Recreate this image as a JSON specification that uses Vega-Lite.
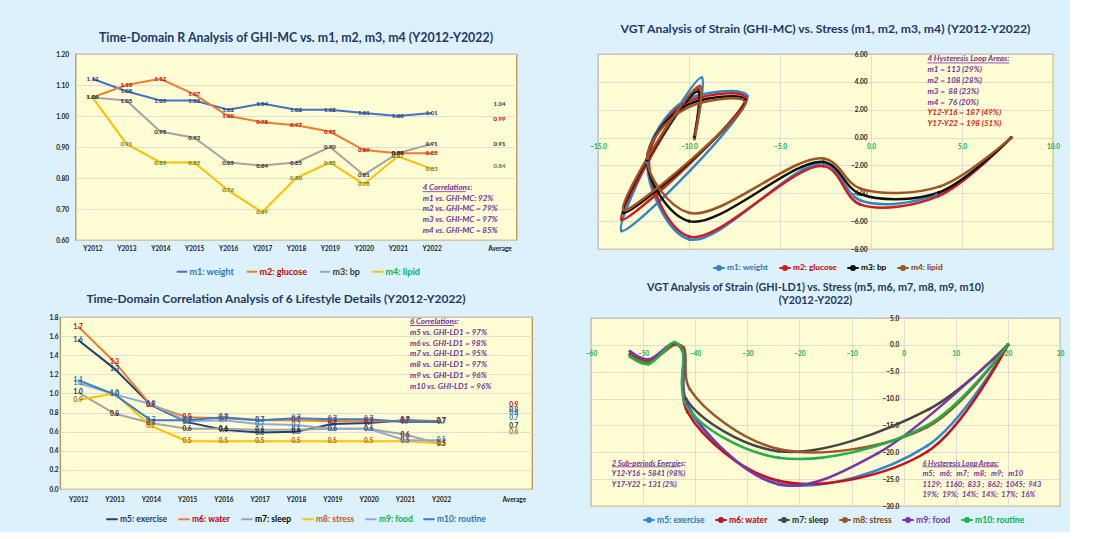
{
 "$schema": "https://vega.github.io/schema/vega-lite/v6.json",
 "background": "#dcf1fb",
 "padding": {"left": 48, "top": 22, "right": 5, "bottom": 5},
 "bounds": "full",
 "spacing": 51,
 "resolve": {"scale": {"color": "independent", "stroke": "independent", "fill": "independent"}},
 "config": {
   "font": "Lato",
   "view": {"fill": "#fffdd3", "stroke": "#b08a58", "strokeWidth": 1.2},
   "title": {"font": "Lato", "fontSize": 13, "fontWeight": "bold", "color": "#1f3864", "anchor": "middle"},
   "axis": {"labelFont": "Lato", "labelFontWeight": "bold", "labelFontSize": 6.5, "labelColor": "#1a1a1a", "labelOverlap": false, "domain": false, "ticks": false, "tickSize": 0, "gridColor": "#d6d6d6", "gridWidth": 0.8},
   "legend": {"padding": 0, "labelFont": "Lato", "labelFontWeight": "bold", "labelFontSize": 9, "labelOffset": 1, "columnPadding": 8, "symbolStrokeWidth": 2}
 },
 "datasets": {
  "tl": [
   {"series":"m1: weight","year":"Y2012","value":1.12},{"series":"m1: weight","year":"Y2013","value":1.08},{"series":"m1: weight","year":"Y2014","value":1.05},{"series":"m1: weight","year":"Y2015","value":1.05},{"series":"m1: weight","year":"Y2016","value":1.02},{"series":"m1: weight","year":"Y2017","value":1.04},{"series":"m1: weight","year":"Y2018","value":1.02},{"series":"m1: weight","year":"Y2019","value":1.02},{"series":"m1: weight","year":"Y2020","value":1.01},{"series":"m1: weight","year":"Y2021","value":1.00},{"series":"m1: weight","year":"Y2022","value":1.01},{"series":"m1: weight","year":"Average","value":1.04},
   {"series":"m2: glucose","year":"Y2012","value":1.06},{"series":"m2: glucose","year":"Y2013","value":1.10},{"series":"m2: glucose","year":"Y2014","value":1.12},{"series":"m2: glucose","year":"Y2015","value":1.07},{"series":"m2: glucose","year":"Y2016","value":1.00},{"series":"m2: glucose","year":"Y2017","value":0.98},{"series":"m2: glucose","year":"Y2018","value":0.97},{"series":"m2: glucose","year":"Y2019","value":0.95},{"series":"m2: glucose","year":"Y2020","value":0.89},{"series":"m2: glucose","year":"Y2021","value":0.88},{"series":"m2: glucose","year":"Y2022","value":0.88},{"series":"m2: glucose","year":"Average","value":0.99},
   {"series":"m3: bp","year":"Y2012","value":1.06},{"series":"m3: bp","year":"Y2013","value":1.05},{"series":"m3: bp","year":"Y2014","value":0.95},{"series":"m3: bp","year":"Y2015","value":0.93},{"series":"m3: bp","year":"Y2016","value":0.85},{"series":"m3: bp","year":"Y2017","value":0.84},{"series":"m3: bp","year":"Y2018","value":0.85},{"series":"m3: bp","year":"Y2019","value":0.90},{"series":"m3: bp","year":"Y2020","value":0.81},{"series":"m3: bp","year":"Y2021","value":0.88},{"series":"m3: bp","year":"Y2022","value":0.91},{"series":"m3: bp","year":"Average","value":0.91},
   {"series":"m4: lipid","year":"Y2012","value":1.06},{"series":"m4: lipid","year":"Y2013","value":0.91},{"series":"m4: lipid","year":"Y2014","value":0.85},{"series":"m4: lipid","year":"Y2015","value":0.85},{"series":"m4: lipid","year":"Y2016","value":0.76},{"series":"m4: lipid","year":"Y2017","value":0.69},{"series":"m4: lipid","year":"Y2018","value":0.80},{"series":"m4: lipid","year":"Y2019","value":0.85},{"series":"m4: lipid","year":"Y2020","value":0.78},{"series":"m4: lipid","year":"Y2021","value":0.87},{"series":"m4: lipid","year":"Y2022","value":0.83},{"series":"m4: lipid","year":"Average","value":0.84}
  ],
  "bl": [
   {"series":"m5: exercise","year":"Y2012","value":1.56},{"series":"m5: exercise","year":"Y2013","value":1.26},{"series":"m5: exercise","year":"Y2014","value":0.88},{"series":"m5: exercise","year":"Y2015","value":0.70},{"series":"m5: exercise","year":"Y2016","value":0.62},{"series":"m5: exercise","year":"Y2017","value":0.59},{"series":"m5: exercise","year":"Y2018","value":0.60},{"series":"m5: exercise","year":"Y2019","value":0.68},{"series":"m5: exercise","year":"Y2020","value":0.69},{"series":"m5: exercise","year":"Y2021","value":0.72},{"series":"m5: exercise","year":"Y2022","value":0.71},{"series":"m5: exercise","year":"Average","value":0.83},
   {"series":"m6: water","year":"Y2012","value":1.70},{"series":"m6: water","year":"Y2013","value":1.33},{"series":"m6: water","year":"Y2014","value":0.88},{"series":"m6: water","year":"Y2015","value":0.75},{"series":"m6: water","year":"Y2016","value":0.74},{"series":"m6: water","year":"Y2017","value":0.72},{"series":"m6: water","year":"Y2018","value":0.72},{"series":"m6: water","year":"Y2019","value":0.71},{"series":"m6: water","year":"Y2020","value":0.71},{"series":"m6: water","year":"Y2021","value":0.71},{"series":"m6: water","year":"Y2022","value":0.71},{"series":"m6: water","year":"Average","value":0.88},
   {"series":"m7: sleep","year":"Y2012","value":1.01},{"series":"m7: sleep","year":"Y2013","value":0.79},{"series":"m7: sleep","year":"Y2014","value":0.69},{"series":"m7: sleep","year":"Y2015","value":0.63},{"series":"m7: sleep","year":"Y2016","value":0.63},{"series":"m7: sleep","year":"Y2017","value":0.62},{"series":"m7: sleep","year":"Y2018","value":0.62},{"series":"m7: sleep","year":"Y2019","value":0.63},{"series":"m7: sleep","year":"Y2020","value":0.63},{"series":"m7: sleep","year":"Y2021","value":0.57},{"series":"m7: sleep","year":"Y2022","value":0.47},{"series":"m7: sleep","year":"Average","value":0.66},
   {"series":"m8: stress","year":"Y2012","value":0.93},{"series":"m8: stress","year":"Y2013","value":1.00},{"series":"m8: stress","year":"Y2014","value":0.66},{"series":"m8: stress","year":"Y2015","value":0.50},{"series":"m8: stress","year":"Y2016","value":0.50},{"series":"m8: stress","year":"Y2017","value":0.50},{"series":"m8: stress","year":"Y2018","value":0.50},{"series":"m8: stress","year":"Y2019","value":0.50},{"series":"m8: stress","year":"Y2020","value":0.50},{"series":"m8: stress","year":"Y2021","value":0.50},{"series":"m8: stress","year":"Y2022","value":0.48},{"series":"m8: stress","year":"Average","value":0.60},
   {"series":"m9: food","year":"Y2012","value":1.11},{"series":"m9: food","year":"Y2013","value":0.99},{"series":"m9: food","year":"Y2014","value":0.89},{"series":"m9: food","year":"Y2015","value":0.71},{"series":"m9: food","year":"Y2016","value":0.72},{"series":"m9: food","year":"Y2017","value":0.68},{"series":"m9: food","year":"Y2018","value":0.67},{"series":"m9: food","year":"Y2019","value":0.63},{"series":"m9: food","year":"Y2020","value":0.63},{"series":"m9: food","year":"Y2021","value":0.51},{"series":"m9: food","year":"Y2022","value":0.51},{"series":"m9: food","year":"Average","value":0.74},
   {"series":"m10: routine","year":"Y2012","value":1.14},{"series":"m10: routine","year":"Y2013","value":0.99},{"series":"m10: routine","year":"Y2014","value":0.72},{"series":"m10: routine","year":"Y2015","value":0.72},{"series":"m10: routine","year":"Y2016","value":0.75},{"series":"m10: routine","year":"Y2017","value":0.72},{"series":"m10: routine","year":"Y2018","value":0.74},{"series":"m10: routine","year":"Y2019","value":0.73},{"series":"m10: routine","year":"Y2020","value":0.73},{"series":"m10: routine","year":"Y2021","value":0.70},{"series":"m10: routine","year":"Y2022","value":0.70},{"series":"m10: routine","year":"Average","value":0.80}
  ],
  "tr": [
   {"series":"m1: weight","step":1,"stress":7.7,"strain":0},{"series":"m1: weight","step":2,"stress":3.6,"strain":-4.1},{"series":"m1: weight","step":3,"stress":-0.6,"strain":-4.5},{"series":"m1: weight","step":4,"stress":-2.6,"strain":-1.85},{"series":"m1: weight","step":5,"stress":-10,"strain":-7.3},{"series":"m1: weight","step":6,"stress":-12.3,"strain":-1.7},{"series":"m1: weight","step":7,"stress":-10.3,"strain":2.6},{"series":"m1: weight","step":8,"stress":-6.8,"strain":3.0},{"series":"m1: weight","step":9,"stress":-13.7,"strain":-6.7},{"series":"m1: weight","step":10,"stress":-12.3,"strain":-1.8},{"series":"m1: weight","step":11,"stress":-9.3,"strain":4.3},{"series":"m1: weight","step":12,"stress":-9.7,"strain":0.1},
   {"series":"m2: glucose","step":1,"stress":7.7,"strain":0},{"series":"m2: glucose","step":2,"stress":3.7,"strain":-4.2},{"series":"m2: glucose","step":3,"stress":-0.6,"strain":-4.8},{"series":"m2: glucose","step":4,"stress":-2.6,"strain":-2.05},{"series":"m2: glucose","step":5,"stress":-10,"strain":-7.1},{"series":"m2: glucose","step":6,"stress":-12.2,"strain":-1.6},{"series":"m2: glucose","step":7,"stress":-10.3,"strain":2.4},{"series":"m2: glucose","step":8,"stress":-6.9,"strain":2.9},{"series":"m2: glucose","step":9,"stress":-13.7,"strain":-5.9},{"series":"m2: glucose","step":10,"stress":-12.2,"strain":-1.6},{"series":"m2: glucose","step":11,"stress":-9.5,"strain":3.5},{"series":"m2: glucose","step":12,"stress":-9.7,"strain":0.1},
   {"series":"m3: bp","step":1,"stress":7.7,"strain":0},{"series":"m3: bp","step":2,"stress":3.7,"strain":-3.95},{"series":"m3: bp","step":3,"stress":-0.6,"strain":-4.05},{"series":"m3: bp","step":4,"stress":-2.6,"strain":-1.75},{"series":"m3: bp","step":5,"stress":-10,"strain":-6.0},{"series":"m3: bp","step":6,"stress":-12.3,"strain":-1.6},{"series":"m3: bp","step":7,"stress":-10.3,"strain":2.2},{"series":"m3: bp","step":8,"stress":-6.9,"strain":2.7},{"series":"m3: bp","step":9,"stress":-13.6,"strain":-5.4},{"series":"m3: bp","step":10,"stress":-12.3,"strain":-1.6},{"series":"m3: bp","step":11,"stress":-9.5,"strain":3.3},{"series":"m3: bp","step":12,"stress":-9.7,"strain":0.0},
   {"series":"m4: lipid","step":1,"stress":7.7,"strain":0},{"series":"m4: lipid","step":2,"stress":3.8,"strain":-3.5},{"series":"m4: lipid","step":3,"stress":-0.6,"strain":-3.65},{"series":"m4: lipid","step":4,"stress":-2.6,"strain":-1.5},{"series":"m4: lipid","step":5,"stress":-10,"strain":-5.4},{"series":"m4: lipid","step":6,"stress":-12.3,"strain":-1.5},{"series":"m4: lipid","step":7,"stress":-10.3,"strain":2.0},{"series":"m4: lipid","step":8,"stress":-6.9,"strain":2.6},{"series":"m4: lipid","step":9,"stress":-13.6,"strain":-5.2},{"series":"m4: lipid","step":10,"stress":-12.3,"strain":-1.5},{"series":"m4: lipid","step":11,"stress":-9.4,"strain":3.7},{"series":"m4: lipid","step":12,"stress":-9.7,"strain":-0.1}
  ],
  "br": [
   {"series":"m5: exercise","step":1,"stress":20,"strain":0},{"series":"m5: exercise","step":2,"stress":4.5,"strain":-18.8},{"series":"m5: exercise","step":3,"stress":-24,"strain":-25.8},{"series":"m5: exercise","step":4,"stress":-41.5,"strain":-11.5},{"series":"m5: exercise","step":5,"stress":-42.4,"strain":-1.2},{"series":"m5: exercise","step":6,"stress":-44,"strain":0.2},{"series":"m5: exercise","step":7,"stress":-49,"strain":-3.0},{"series":"m5: exercise","step":8,"stress":-52.5,"strain":-1.8},
   {"series":"m6: water","step":1,"stress":20,"strain":0},{"series":"m6: water","step":2,"stress":4.5,"strain":-19.9},{"series":"m6: water","step":3,"stress":-24,"strain":-25.3},{"series":"m6: water","step":4,"stress":-41.5,"strain":-12.5},{"series":"m6: water","step":5,"stress":-42.4,"strain":-1.0},{"series":"m6: water","step":6,"stress":-44,"strain":0.1},{"series":"m6: water","step":7,"stress":-49,"strain":-3.0},{"series":"m6: water","step":8,"stress":-52.5,"strain":-1.8},
   {"series":"m7: sleep","step":1,"stress":20,"strain":0},{"series":"m7: sleep","step":2,"stress":4.8,"strain":-12.0},{"series":"m7: sleep","step":3,"stress":-24,"strain":-19.8},{"series":"m7: sleep","step":4,"stress":-41.8,"strain":-10.0},{"series":"m7: sleep","step":5,"stress":-42.4,"strain":-0.8},{"series":"m7: sleep","step":6,"stress":-44,"strain":0.2},{"series":"m7: sleep","step":7,"stress":-49,"strain":-3.1},{"series":"m7: sleep","step":8,"stress":-52.5,"strain":-1.9},
   {"series":"m8: stress","step":1,"stress":20,"strain":0},{"series":"m8: stress","step":2,"stress":4.5,"strain":-15.3},{"series":"m8: stress","step":3,"stress":-24,"strain":-19.4},{"series":"m8: stress","step":4,"stress":-41,"strain":-8.3},{"series":"m8: stress","step":5,"stress":-42.2,"strain":-0.5},{"series":"m8: stress","step":6,"stress":-43.8,"strain":0.0},{"series":"m8: stress","step":7,"stress":-49,"strain":-3.2},{"series":"m8: stress","step":8,"stress":-52.5,"strain":-2.0},
   {"series":"m9: food","step":1,"stress":20,"strain":0},{"series":"m9: food","step":2,"stress":-5,"strain":-20.2},{"series":"m9: food","step":3,"stress":-24,"strain":-26.0},{"series":"m9: food","step":4,"stress":-41.5,"strain":-11.0},{"series":"m9: food","step":5,"stress":-42.4,"strain":-1.0},{"series":"m9: food","step":6,"stress":-44,"strain":0.4},{"series":"m9: food","step":7,"stress":-49,"strain":-2.7},{"series":"m9: food","step":8,"stress":-52.5,"strain":-1.2},
   {"series":"m10: routine","step":1,"stress":20,"strain":0},{"series":"m10: routine","step":2,"stress":4.5,"strain":-15.0},{"series":"m10: routine","step":3,"stress":-24,"strain":-21.0},{"series":"m10: routine","step":4,"stress":-41.6,"strain":-11.5},{"series":"m10: routine","step":5,"stress":-42.5,"strain":-1.0},{"series":"m10: routine","step":6,"stress":-44,"strain":0.5},{"series":"m10: routine","step":7,"stress":-49,"strain":-3.6},{"series":"m10: routine","step":8,"stress":-52.5,"strain":-2.2}
  ]
 },
 "hconcat": [
  {
   "spacing": 77, "bounds": "flush", "center": true,
   "resolve": {"scale": {"color": "independent", "stroke": "independent", "fill": "independent"}},
   "vconcat": [
    {
     "width": 441, "height": 186,
     "title": {"text": "Time-Domain R Analysis of GHI-MC vs. m1, m2, m3, m4  (Y2012-Y2022)", "offset": 7, "fontSize": 12.4},
     "data": {"name": "tl"},
     "layer": [
      {"transform": [{"filter": "datum.year !== 'Average'"}],
       "mark": {"type": "line", "strokeWidth": 2},
       "encoding": {
        "x": {"field": "year", "type": "ordinal", "scale": {"type": "point", "padding": 0.5, "domain": ["Y2012","Y2013","Y2014","Y2015","Y2016","Y2017","Y2018","Y2019","Y2020","Y2021","Y2022","gap","Average"]}, "axis": {"title": null, "labelAngle": 0, "labelPadding": 5, "labelExpr": "datum.value === 'gap' ? '' : datum.value", "minExtent": 0}},
        "y": {"field": "value", "type": "quantitative", "scale": {"domain": [0.6, 1.2], "nice": false, "zero": false}, "axis": {"title": null, "values": [0.6,0.7,0.8,0.9,1.0,1.1,1.2], "format": ".2f", "grid": true, "labelPadding": 7, "minExtent": 0}},
        "stroke": {"field": "series", "type": "nominal", "scale": {"domain": ["m1: weight","m2: glucose","m3: bp","m4: lipid"], "range": ["#4472c4","#ed7d31","#a5a5a5","#ffc000"]},
         "legend": {"title": null, "orient": "none", "legendX": 100, "legendY": 211, "direction": "horizontal", "symbolType": "stroke", "symbolSize": 110,
           "encode": {"labels": {"update": {"fill": {"signal": "datum.value==='m1: weight'?'#2e75b6':datum.value==='m2: glucose'?'#c00000':datum.value==='m3: bp'?'#3a3a3a':'#00b050'"}}}}}}}},
      {"mark": {"type": "text", "fontSize": 6, "fontWeight": "bold"},
       "encoding": {
        "x": {"field": "year", "type": "ordinal", "axis": {"title": null, "labelAngle": 0, "labelPadding": 5, "labelExpr": "datum.value === 'gap' ? '' : datum.value", "minExtent": 0}},
        "y": {"field": "value", "type": "quantitative", "axis": {"title": null, "values": [0.6,0.7,0.8,0.9,1.0,1.1,1.2], "format": ".2f", "grid": true, "labelPadding": 7, "minExtent": 0}},
        "text": {"field": "value", "type": "quantitative", "format": ".2f"},
        "fill": {"field": "series", "type": "nominal", "scale": {"domain": ["m1: weight","m2: glucose","m3: bp","m4: lipid"], "range": ["#1f3864","#c00000","#262626","#4e7d2a"]}, "legend": null}}},
      {"data": {"values": [{"note": ["4 Correlations:", "m1 vs. GHI-MC: 92%", "m2 vs. GHI-MC = 79%", "m3 vs. GHI-MC = 97%", "m4 vs. GHI-MC = 85%"]}]},
       "mark": {"type": "text", "align": "left", "baseline": "top", "dx": -9, "fontSize": 8, "fontStyle": "italic", "fontWeight": "bold", "fill": "#7030a0", "lineHeight": 10.8},
       "encoding": {
        "x": {"datum": "Y2022", "type": "ordinal", "axis": {"title": null, "labelAngle": 0, "labelPadding": 5, "labelExpr": "datum.value === 'gap' ? '' : datum.value", "minExtent": 0}},
        "y": {"datum": 0.781, "type": "quantitative", "axis": {"title": null, "values": [0.6,0.7,0.8,0.9,1.0,1.1,1.2], "format": ".2f", "grid": true, "labelPadding": 7, "minExtent": 0}},
        "text": {"field": "note", "type": "nominal"}}},
      {"data": {"values": [{}]},
       "mark": {"type": "rule", "color": "#7030a0", "strokeWidth": 0.8, "xOffset": -9, "x2Offset": 34},
       "encoding": {
        "x": {"datum": "Y2022", "type": "ordinal", "axis": {"title": null, "labelAngle": 0, "labelPadding": 5, "labelExpr": "datum.value === 'gap' ? '' : datum.value", "minExtent": 0}},
        "x2": {"datum": "Y2022"},
        "y": {"datum": 0.756, "type": "quantitative", "axis": {"title": null, "values": [0.6,0.7,0.8,0.9,1.0,1.1,1.2], "format": ".2f", "grid": true, "labelPadding": 7, "minExtent": 0}}}}
     ]
    },
    {
     "width": 472, "height": 172,
     "title": {"text": "Time-Domain Correlation Analysis of 6 Lifestyle Details  (Y2012-Y2022)", "offset": 8, "dx": -20, "fontSize": 12},
     "data": {"name": "bl"},
     "layer": [
      {"transform": [{"filter": "datum.year !== 'Average'"}],
       "mark": {"type": "line", "strokeWidth": 2},
       "encoding": {
        "x": {"field": "year", "type": "ordinal", "scale": {"type": "point", "padding": 0.5, "domain": ["Y2012","Y2013","Y2014","Y2015","Y2016","Y2017","Y2018","Y2019","Y2020","Y2021","Y2022","gap","Average"]}, "axis": {"title": null, "labelAngle": 0, "labelPadding": 7, "labelExpr": "datum.value === 'gap' ? '' : datum.value", "minExtent": 0}},
        "y": {"field": "value", "type": "quantitative", "scale": {"domain": [0, 1.8], "nice": false}, "axis": {"title": null, "values": [0,0.2,0.4,0.6,0.8,1.0,1.2,1.4,1.6,1.8], "format": ".1f", "grid": true, "labelPadding": 2, "minExtent": 0}},
        "stroke": {"field": "series", "type": "nominal", "scale": {"domain": ["m5: exercise","m6: water","m7: sleep","m8: stress","m9: food","m10: routine"], "range": ["#22406f","#ed7d31","#a5a5a5","#ffc000","#8eaadb","#3b7dc4"]},
         "legend": {"title": null, "orient": "none", "legendX": 45, "legendY": 195, "direction": "horizontal", "symbolType": "stroke", "symbolSize": 130, "labelFontSize": 8.5, "columnPadding": 6,
           "encode": {"labels": {"update": {"fill": {"signal": "datum.value==='m5: exercise'?'#1f3864':datum.value==='m6: water'?'#c00000':datum.value==='m7: sleep'?'#000000':datum.value==='m8: stress'?'#c55a11':datum.value==='m9: food'?'#00b050':'#2e75b6'"}}}}}}}},
      {"mark": {"type": "text", "fontSize": 6.5, "fontWeight": "bold"},
       "encoding": {
        "x": {"field": "year", "type": "ordinal", "axis": {"title": null, "labelAngle": 0, "labelPadding": 7, "labelExpr": "datum.value === 'gap' ? '' : datum.value", "minExtent": 0}},
        "y": {"field": "value", "type": "quantitative", "axis": {"title": null, "values": [0,0.2,0.4,0.6,0.8,1.0,1.2,1.4,1.6,1.8], "format": ".1f", "grid": true, "labelPadding": 2, "minExtent": 0}},
        "text": {"field": "value", "type": "quantitative", "format": ".1f"},
        "fill": {"field": "series", "type": "nominal", "scale": {"domain": ["m5: exercise","m6: water","m7: sleep","m8: stress","m9: food","m10: routine"], "range": ["#1f3864","#c00000","#262626","#b45f06","#2e75b6","#2e75b6"]}, "legend": null}}},
      {"data": {"values": [{"note": ["6 Correlations:", "m5 vs. GHI-LD1 = 97%", "m6 vs. GHI-LD1 = 98%", "m7 vs. GHI-LD1 = 95%", "m8 vs. GHI-LD1 = 97%", "m9 vs. GHI-LD1 = 96%", "m10 vs. GHI-LD1 = 96%"]}]},
       "mark": {"type": "text", "align": "left", "baseline": "top", "dx": 5, "fontSize": 8, "fontStyle": "italic", "fontWeight": "bold", "fill": "#7030a0", "lineHeight": 10.8},
       "encoding": {
        "x": {"datum": "Y2021", "type": "ordinal", "axis": {"title": null, "labelAngle": 0, "labelPadding": 7, "labelExpr": "datum.value === 'gap' ? '' : datum.value", "minExtent": 0}},
        "y": {"datum": 1.79, "type": "quantitative", "axis": {"title": null, "values": [0,0.2,0.4,0.6,0.8,1.0,1.2,1.4,1.6,1.8], "format": ".1f", "grid": true, "labelPadding": 2, "minExtent": 0}},
        "text": {"field": "note", "type": "nominal"}}},
      {"data": {"values": [{}]},
       "mark": {"type": "rule", "color": "#7030a0", "strokeWidth": 0.8, "xOffset": 5, "x2Offset": 49},
       "encoding": {
        "x": {"datum": "Y2021", "type": "ordinal", "axis": {"title": null, "labelAngle": 0, "labelPadding": 7, "labelExpr": "datum.value === 'gap' ? '' : datum.value", "minExtent": 0}},
        "x2": {"datum": "Y2021"},
        "y": {"datum": 1.711, "type": "quantitative", "axis": {"title": null, "values": [0,0.2,0.4,0.6,0.8,1.0,1.2,1.4,1.6,1.8], "format": ".1f", "grid": true, "labelPadding": 2, "minExtent": 0}}}}
     ]
    }
   ]
  },
  {
   "spacing": 69, "bounds": "flush", "center": true,
   "resolve": {"scale": {"color": "independent", "stroke": "independent", "fill": "independent"}},
   "vconcat": [
    {
     "width": 455, "height": 195,
     "title": {"text": "VGT Analysis of Strain (GHI-MC) vs. Stress (m1, m2, m3, m4)  (Y2012-Y2022)", "offset": 16, "fontSize": 12.2},
     "data": {"name": "tr"},
     "layer": [
      {"mark": {"type": "line", "interpolate": "catmull-rom", "strokeWidth": 2.5},
       "encoding": {
        "x": {"field": "stress", "type": "quantitative", "scale": {"domain": [-15, 10], "nice": false, "zero": false}, "axis": {"title": null, "values": [-15,-10,-5,0,5,10], "format": ".1f", "offset": -111.4, "labelColor": "#00b050", "labelPadding": 6, "labelFlush": false, "grid": true, "minExtent": 0}},
        "y": {"field": "strain", "type": "quantitative", "scale": {"domain": [-8, 6], "nice": false, "zero": false}, "axis": {"title": null, "values": [-8,-6,-4,-2,0,2,4,6], "format": ".2f", "offset": -273, "labelPadding": 4, "grid": true, "minExtent": 0}},
        "order": {"field": "step", "type": "quantitative"},
        "color": {"field": "series", "type": "nominal", "scale": {"domain": ["m1: weight","m2: glucose","m3: bp","m4: lipid"], "range": ["#2e86c9","#d01c1f","#111111","#9c5424"]},
         "legend": {"title": null, "orient": "none", "legendX": 114, "legendY": 207, "direction": "horizontal", "symbolType": "M-1,0L1,0M0.35,0A0.35,0.35,0,1,1,-0.35,0A0.35,0.35,0,1,1,0.35,0", "symbolSize": 130, "labelFontSize": 8.3, "columnPadding": 6,
           "encode": {"labels": {"update": {"fill": {"signal": "datum.value==='m1: weight'?'#2e75b6':datum.value==='m2: glucose'?'#c00000':datum.value==='m3: bp'?'#000000':'#843c0c'"}}},
                      "symbols": {"update": {"fill": {"signal": "datum.value==='m1: weight'?'#2e86c9':datum.value==='m2: glucose'?'#d01c1f':datum.value==='m3: bp'?'#111111':'#9c5424'"}, "stroke": {"signal": "datum.value==='m1: weight'?'#2e86c9':datum.value==='m2: glucose'?'#d01c1f':datum.value==='m3: bp'?'#111111':'#9c5424'"}}}}}}}},
      {"mark": {"type": "point", "filled": true, "size": 10, "opacity": 1},
       "encoding": {
        "x": {"field": "stress", "type": "quantitative", "axis": {"title": null, "values": [-15,-10,-5,0,5,10], "format": ".1f", "offset": -111.4, "labelColor": "#00b050", "labelPadding": 6, "labelFlush": false, "grid": true, "minExtent": 0}},
        "y": {"field": "strain", "type": "quantitative", "axis": {"title": null, "values": [-8,-6,-4,-2,0,2,4,6], "format": ".2f", "offset": -273, "labelPadding": 4, "grid": true, "minExtent": 0}},
        "color": {"field": "series", "type": "nominal"}}},
      {"data": {"values": [{"note": ["4 Hysteresis Loop Areas:", "m1 = 113 (29%)", "m2 = 108 (28%)", "m3 = \u00a088 (23%)", "m4 = \u00a076 (20%)"]}]},
       "mark": {"type": "text", "align": "left", "baseline": "top", "fontSize": 8, "fontStyle": "italic", "fontWeight": "bold", "fill": "#7030a0", "lineHeight": 10.8},
       "encoding": {
        "x": {"datum": 3.1, "type": "quantitative", "axis": {"title": null, "values": [-15,-10,-5,0,5,10], "format": ".1f", "offset": -111.4, "labelColor": "#00b050", "labelPadding": 6, "labelFlush": false, "grid": true, "minExtent": 0}},
        "y": {"datum": 5.9, "type": "quantitative", "axis": {"title": null, "values": [-8,-6,-4,-2,0,2,4,6], "format": ".2f", "offset": -273, "labelPadding": 4, "grid": true, "minExtent": 0}},
        "text": {"field": "note", "type": "nominal"}}},
      {"data": {"values": [{}]},
       "mark": {"type": "rule", "color": "#7030a0", "strokeWidth": 0.8},
       "encoding": {
        "x": {"datum": 3.1, "type": "quantitative", "axis": {"title": null, "values": [-15,-10,-5,0,5,10], "format": ".1f", "offset": -111.4, "labelColor": "#00b050", "labelPadding": 6, "labelFlush": false, "grid": true, "minExtent": 0}},
        "x2": {"datum": 7.6},
        "y": {"datum": 5.36, "type": "quantitative", "axis": {"title": null, "values": [-8,-6,-4,-2,0,2,4,6], "format": ".2f", "offset": -273, "labelPadding": 4, "grid": true, "minExtent": 0}}}},
      {"data": {"values": [{"note": ["Y12-Y16 = 187 (49%)", "Y17-Y22 = 198 (51%)"]}]},
       "mark": {"type": "text", "align": "left", "baseline": "top", "fontSize": 8, "fontStyle": "italic", "fontWeight": "bold", "fill": "#e02020", "lineHeight": 10.8},
       "encoding": {
        "x": {"datum": 3.1, "type": "quantitative", "axis": {"title": null, "values": [-15,-10,-5,0,5,10], "format": ".1f", "offset": -111.4, "labelColor": "#00b050", "labelPadding": 6, "labelFlush": false, "grid": true, "minExtent": 0}},
        "y": {"datum": 2.05, "type": "quantitative", "axis": {"title": null, "values": [-8,-6,-4,-2,0,2,4,6], "format": ".2f", "offset": -273, "labelPadding": 4, "grid": true, "minExtent": 0}},
        "text": {"field": "note", "type": "nominal"}}}
     ]
    },
    {
     "width": 469, "height": 188,
     "title": {"text": ["VGT Analysis of Strain (GHI-LD1) vs. Stress (m5, m6, m7, m8, m9, m10)", "(Y2012-Y2022)"], "lineHeight": 13, "offset": 9, "dx": -10, "fontSize": 10.8},
     "data": {"name": "br"},
     "layer": [
      {"mark": {"type": "line", "interpolate": "catmull-rom", "strokeWidth": 2.5},
       "encoding": {
        "x": {"field": "stress", "type": "quantitative", "scale": {"domain": [-60, 30], "nice": false, "zero": false}, "axis": {"title": null, "values": [-60,-50,-40,-30,-20,-10,0,10,20,30], "format": "d", "offset": -161.1, "labelColor": "#00b050", "labelPadding": 6, "labelFlush": false, "grid": true, "minExtent": 0}},
        "y": {"field": "strain", "type": "quantitative", "scale": {"domain": [-30, 5], "nice": false, "zero": false}, "axis": {"title": null, "values": [-30,-25,-20,-15,-10,-5,0,5], "format": ".1f", "offset": -312.7, "labelPadding": 5, "grid": true, "minExtent": 0}},
        "order": {"field": "step", "type": "quantitative"},
        "color": {"field": "series", "type": "nominal", "scale": {"domain": ["m5: exercise","m6: water","m7: sleep","m8: stress","m9: food","m10: routine"], "range": ["#2e8bd0","#c8101a","#454545","#9c5424","#7a35a8","#21b04b"]},
         "legend": {"title": null, "orient": "none", "legendX": 51, "legendY": 195, "direction": "horizontal", "symbolType": "M-1,0L1,0M0.35,0A0.35,0.35,0,1,1,-0.35,0A0.35,0.35,0,1,1,0.35,0", "symbolSize": 130, "labelFontSize": 8.6, "columnPadding": 6,
           "encode": {"labels": {"update": {"fill": {"signal": "datum.value==='m5: exercise'?'#2e75b6':datum.value==='m6: water'?'#c00000':datum.value==='m7: sleep'?'#262626':datum.value==='m8: stress'?'#843c0c':datum.value==='m9: food'?'#7030a0':'#00b050'"}}},
                      "symbols": {"update": {"fill": {"signal": "datum.value==='m5: exercise'?'#2e8bd0':datum.value==='m6: water'?'#c8101a':datum.value==='m7: sleep'?'#454545':datum.value==='m8: stress'?'#9c5424':datum.value==='m9: food'?'#7a35a8':'#21b04b'"}, "stroke": {"signal": "datum.value==='m5: exercise'?'#2e8bd0':datum.value==='m6: water'?'#c8101a':datum.value==='m7: sleep'?'#454545':datum.value==='m8: stress'?'#9c5424':datum.value==='m9: food'?'#7a35a8':'#21b04b'"}}}}}}}},
      {"mark": {"type": "point", "filled": true, "size": 10, "opacity": 1},
       "encoding": {
        "x": {"field": "stress", "type": "quantitative", "axis": {"title": null, "values": [-60,-50,-40,-30,-20,-10,0,10,20,30], "format": "d", "offset": -161.1, "labelColor": "#00b050", "labelPadding": 6, "labelFlush": false, "grid": true, "minExtent": 0}},
        "y": {"field": "strain", "type": "quantitative", "axis": {"title": null, "values": [-30,-25,-20,-15,-10,-5,0,5], "format": ".1f", "offset": -312.7, "labelPadding": 5, "grid": true, "minExtent": 0}},
        "color": {"field": "series", "type": "nominal"}}},
      {"data": {"values": [{"note": ["2 Sub-periods Energies:", "Y12-Y16 = 5841 (98%)", "Y17-Y22 = 131 (2%)"]}]},
       "mark": {"type": "text", "align": "left", "baseline": "top", "fontSize": 7.5, "fontStyle": "italic", "fontWeight": "bold", "fill": "#7030a0", "lineHeight": 10.5},
       "encoding": {
        "x": {"datum": -56, "type": "quantitative", "axis": {"title": null, "values": [-60,-50,-40,-30,-20,-10,0,10,20,30], "format": "d", "offset": -161.1, "labelColor": "#00b050", "labelPadding": 6, "labelFlush": false, "grid": true, "minExtent": 0}},
        "y": {"datum": -21.4, "type": "quantitative", "axis": {"title": null, "values": [-30,-25,-20,-15,-10,-5,0,5], "format": ".1f", "offset": -312.7, "labelPadding": 5, "grid": true, "minExtent": 0}},
        "text": {"field": "note", "type": "nominal"}}},
      {"data": {"values": [{}]},
       "mark": {"type": "rule", "color": "#7030a0", "strokeWidth": 0.8},
       "encoding": {
        "x": {"datum": -56, "type": "quantitative", "axis": {"title": null, "values": [-60,-50,-40,-30,-20,-10,0,10,20,30], "format": "d", "offset": -161.1, "labelColor": "#00b050", "labelPadding": 6, "labelFlush": false, "grid": true, "minExtent": 0}},
        "x2": {"datum": -42.8},
        "y": {"datum": -22.7, "type": "quantitative", "axis": {"title": null, "values": [-30,-25,-20,-15,-10,-5,0,5], "format": ".1f", "offset": -312.7, "labelPadding": 5, "grid": true, "minExtent": 0}}}},
      {"data": {"values": [{"note": ["6 Hysteresis Loop Areas:", "m5;\u00a0\u00a0\u00a0m6;\u00a0\u00a0\u00a0m7;\u00a0\u00a0\u00a0m8;\u00a0\u00a0\u00a0m9;\u00a0\u00a0\u00a0m10", "1129;\u00a0\u00a01160;\u00a0\u00a0833 ;\u00a0\u00a0862;\u00a0\u00a01045;\u00a0\u00a0943", "19%;\u00a0\u00a019%;\u00a0\u00a014%;\u00a0\u00a014%;\u00a0\u00a017%;\u00a0\u00a016%"]}]},
       "mark": {"type": "text", "align": "left", "baseline": "top", "fontSize": 7.5, "fontStyle": "italic", "fontWeight": "bold", "fill": "#7030a0", "lineHeight": 10.5},
       "encoding": {
        "x": {"datum": 3.6, "type": "quantitative", "axis": {"title": null, "values": [-60,-50,-40,-30,-20,-10,0,10,20,30], "format": "d", "offset": -161.1, "labelColor": "#00b050", "labelPadding": 6, "labelFlush": false, "grid": true, "minExtent": 0}},
        "y": {"datum": -21.4, "type": "quantitative", "axis": {"title": null, "values": [-30,-25,-20,-15,-10,-5,0,5], "format": ".1f", "offset": -312.7, "labelPadding": 5, "grid": true, "minExtent": 0}},
        "text": {"field": "note", "type": "nominal"}}},
      {"data": {"values": [{}]},
       "mark": {"type": "rule", "color": "#7030a0", "strokeWidth": 0.8},
       "encoding": {
        "x": {"datum": 3.6, "type": "quantitative", "axis": {"title": null, "values": [-60,-50,-40,-30,-20,-10,0,10,20,30], "format": "d", "offset": -161.1, "labelColor": "#00b050", "labelPadding": 6, "labelFlush": false, "grid": true, "minExtent": 0}},
        "x2": {"datum": 18.2},
        "y": {"datum": -22.7, "type": "quantitative", "axis": {"title": null, "values": [-30,-25,-20,-15,-10,-5,0,5], "format": ".1f", "offset": -312.7, "labelPadding": 5, "grid": true, "minExtent": 0}}}}
     ]
    }
   ]
  }
 ]
}
